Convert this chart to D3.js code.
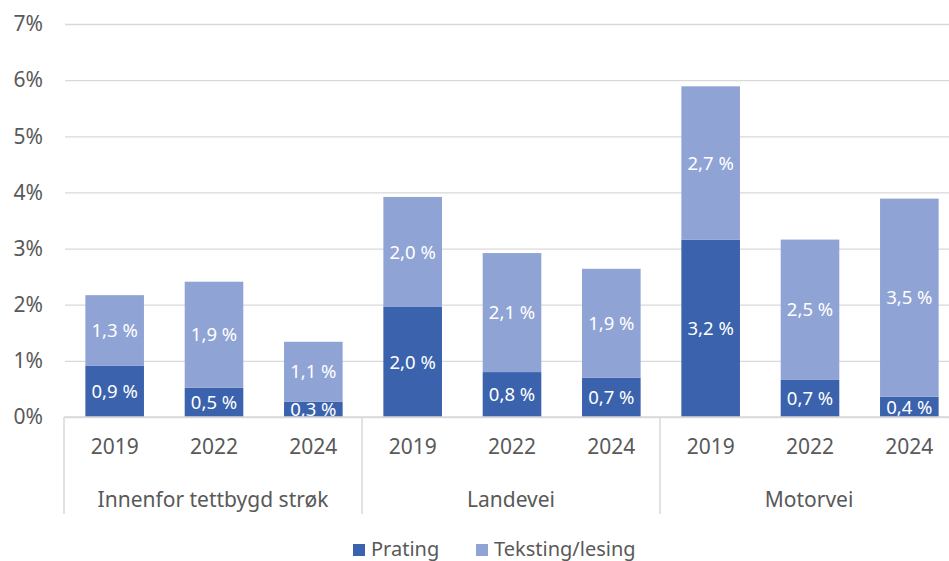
<!DOCTYPE html>
<html>
<head>
<meta charset="utf-8">
<script src="https://cdn.jsdelivr.net/npm/d3@7"></script>
<style>
  html, body { margin: 0; padding: 0; background: #fff; }
  svg { display: block; font-family: "Noto Sans", "Open Sans", sans-serif; }
</style>
</head>
<body>
<svg id="chart" width="949" height="561"></svg>
<script>
// ---- data ----
const categories = ["Innenfor tettbygd strøk", "Landevei", "Motorvei"];
const years = ["2019", "2022", "2024"];
const prating  = [0.91, 0.52, 0.27, 1.96, 0.80, 0.70, 3.16, 0.66, 0.36];
const teksting = [1.26, 1.89, 1.07, 1.96, 2.12, 1.94, 2.73, 2.50, 3.53];
const seriesNames = ["Prating", "Teksting/lesing"];
const yTicks = [0, 1, 2, 3, 4, 5, 6, 7];

// ---- build rows ----
const rows = [];
categories.forEach((c, ci) => years.forEach((yr, yi) => {
  const i = ci * years.length + yi;
  rows.push({ key: c + "|" + yr, cat: c, year: yr, Prating: prating[i], "Teksting/lesing": teksting[i] });
}));

const svg = d3.select("#chart");
const mLeft = 65, mRight = 959, mTop = 24, mBottom = 417;
const colors = { "Prating": "#3a62ad", "Teksting/lesing": "#8fa3d5" };
const textGray = "#595959", lineGray = "#d9d9d9";

const x = d3.scaleBand().domain(rows.map(r => r.key)).range([mLeft, mRight]).paddingInner(0.41).paddingOuter(0.205);
const xGroup = d3.scaleBand().domain(categories).range([mLeft - 1, mRight - 1]);
const y = d3.scaleLinear().domain([0, 7]).range([mBottom, mTop]);

// gridlines + y axis
const yAxis = svg.append("g").attr("transform", `translate(${mLeft},0)`)
  .call(d3.axisLeft(y).tickValues(yTicks).tickFormat(d => d + "%").tickSize(-(mRight - mLeft)).tickPadding(22));
yAxis.select(".domain").remove();
yAxis.selectAll(".tick line").attr("stroke", lineGray).attr("stroke-width", 1.3);
yAxis.selectAll(".tick text").attr("fill", textGray).attr("font-size", 21).attr("font-family", "Noto Sans");

// stacked bars
const stack = d3.stack().keys(seriesNames)(rows);
const layers = svg.append("g").selectAll("g").data(stack).join("g").attr("fill", d => colors[d.key]);
layers.selectAll("rect").data(d => d).join("rect")
  .attr("x", d => x(d.data.key))
  .attr("width", x.bandwidth())
  .attr("y", d => y(d[1]))
  .attr("height", d => y(d[0]) - y(d[1]));

// labels (clipped at the axis)
svg.append("clipPath").attr("id", "plotclip").append("rect")
  .attr("x", 0).attr("y", 0).attr("width", 949).attr("height", mBottom);
const lab = svg.append("g").attr("clip-path", "url(#plotclip)");
stack.forEach(layer => {
  lab.selectAll(null).data(layer).join("text")
    .attr("x", d => x(d.data.key) + x.bandwidth() / 2)
    .attr("y", d => (y(d[0]) + y(d[1])) / 2)
    .attr("dy", "0.36em")
    .attr("text-anchor", "middle")
    .attr("fill", "#ffffff")
    .attr("font-size", 18.5)
    .text(d => (d[1] - d[0]).toFixed(1).replace(".", ",") + " %");
});

// x axis line
svg.append("line").attr("x1", mLeft - 1).attr("x2", 949).attr("y1", mBottom).attr("y2", mBottom)
  .attr("stroke", lineGray).attr("stroke-width", 1.5);

// year labels
const xAxis = svg.append("g").attr("transform", `translate(0,${mBottom})`)
  .call(d3.axisBottom(x).tickSize(0).tickPadding(22).tickFormat(k => k.split("|")[1]));
xAxis.select(".domain").remove();
xAxis.selectAll(".tick text").attr("fill", textGray).attr("font-size", 21).attr("font-family", "Noto Sans");

// group separators
const seps = categories.map(c => xGroup(c)).concat([xGroup.range()[1]]);
svg.append("g").selectAll("line").data(seps).join("line")
  .attr("x1", d => d).attr("x2", d => d).attr("y1", mBottom).attr("y2", 514)
  .attr("stroke", lineGray).attr("stroke-width", 1.5);

// group labels
svg.append("g").selectAll("text").data(categories).join("text")
  .attr("x", d => xGroup(d) + xGroup.bandwidth() / 2)
  .attr("y", 507)
  .attr("text-anchor", "middle")
  .attr("fill", textGray)
  .attr("font-size", 21)
  .text(d => d);

// legend
const legend = svg.append("g");
const legX = [353, 476];
seriesNames.forEach((s, i) => {
  legend.append("rect").attr("x", legX[i]).attr("y", 544).attr("width", 12).attr("height", 12).attr("fill", colors[s]);
  legend.append("text").attr("x", legX[i] + 18).attr("y", 555.5).attr("fill", textGray).attr("font-size", 20).text(s);
});
</script>
</body>
</html>
